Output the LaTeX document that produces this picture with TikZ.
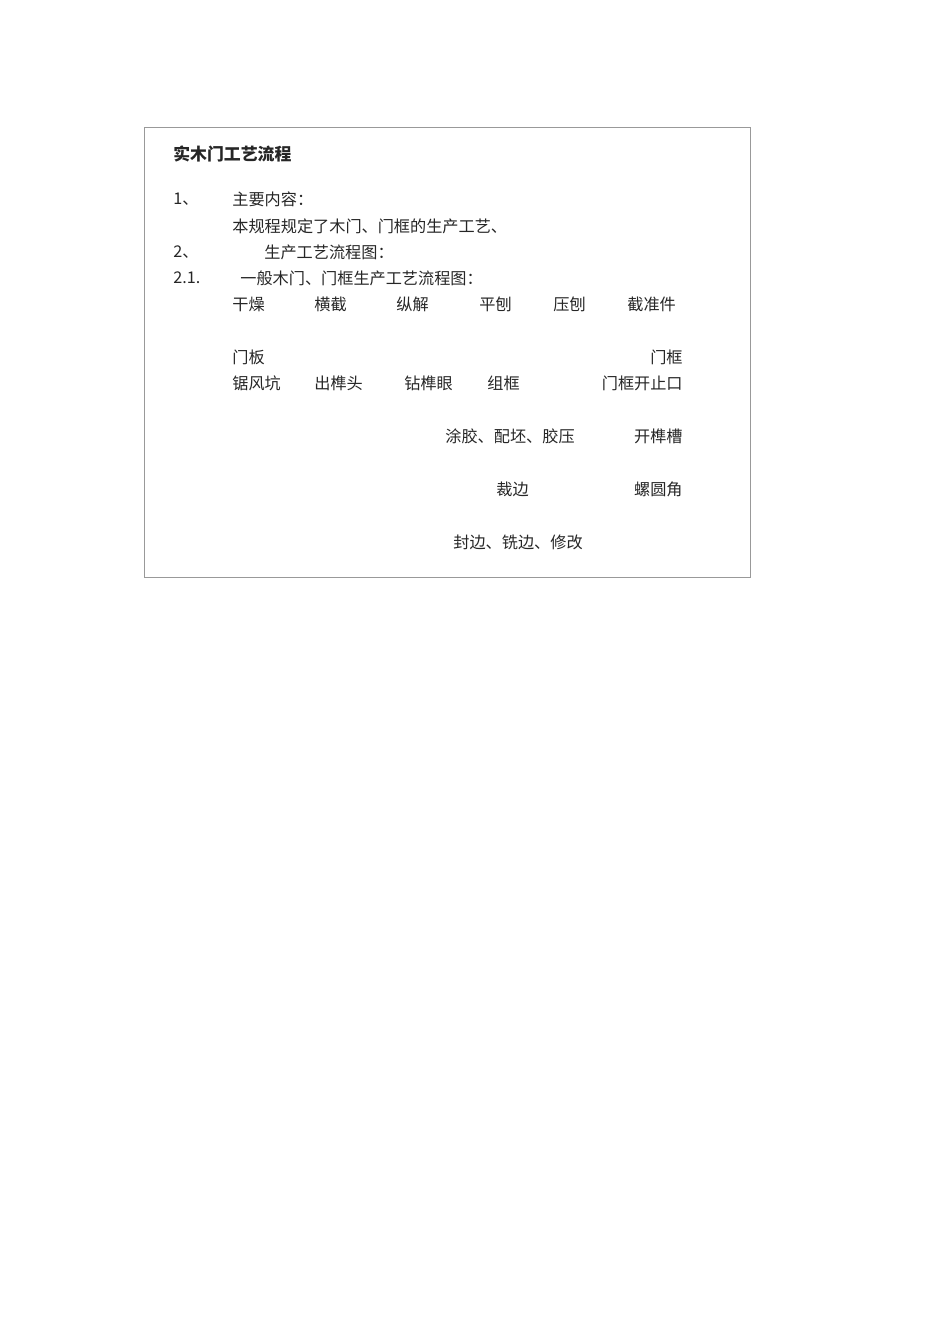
\documentclass[tikz,border=0pt]{standalone}
\usepackage{fontspec}
\usepackage{tikz}
\usetikzlibrary{positioning}
\newfontfamily\cjk{Noto Sans CJK SC}
\tikzset{
  txt/.style={anchor=west, inner sep=0pt, text=black!85, font=\cjk\fontsize{9.2}{10}\selectfont},
  hd/.style={txt, font=\cjk\bfseries\fontsize{9.6}{11}\selectfont}
}

\begin{document}
\begin{tikzpicture}[x=0.02cm, y=-0.02cm]
      \useasboundingbox (0,0) rectangle (950,1344);
      \draw[black!40, line width=0.4pt] (144,127) rectangle (750,577);

      \node[hd] (GY0) at (173,154) {实木门工艺流程};

      \node[txt] (GY1) at (173,199) {1、};
      \node[txt] (GY2) at (232,199) {主要内容：};
      \node[txt] (GY3) at (232,226) {本规程规定了木门、门框的生产工艺、};
      \node[txt] (GY4) at (173,252) {2、};
      \node[txt] (GY5) at (264,252) {生产工艺流程图：};
      \node[txt] (GY6) at (173,278) {2.1.};
      \node[txt] (GY7) at (240,278) {一般木门、门框生产工艺流程图：};

      \node[txt] (LC1) at (232,304) {干燥};
      \node[txt] (LC2) at (314,304) {横截};
      \node[txt] (LC3) at (396,304) {纵解};
      \node[txt] (LC4) at (479,304) {平刨};
      \node[txt] (LC5) at (553,304) {压刨};
      \node[txt] (LC6) at (627,304) {截准件};

      \node[txt] (LC7) at (232,357) {门板};
      \node[txt, anchor=east] (LC8) at (683,357) {门框};

      \node[txt] (LC9) at (232,383) {锯风坑};
      \node[txt] (LC10) at (314,383) {出榫头};
      \node[txt] (LC11) at (404,383) {钻榫眼};
      \node[txt] (LC12) at (487,383) {组框};
      \node[txt, anchor=east] (LC13) at (683,383) {门框开止口};

      \node[txt] (LC14) at (445,436) {涂胶、配坯、胶压};
      \node[txt, anchor=east] (LC15) at (683,436) {开榫槽};

      \node[txt] (LC16) at (496,489) {裁边};
      \node[txt, anchor=east] (LC17) at (683,489) {螺圆角};

      \node[txt] (LC18) at (453,542) {封边、铣边、修改};
\end{tikzpicture}
\end{document}
